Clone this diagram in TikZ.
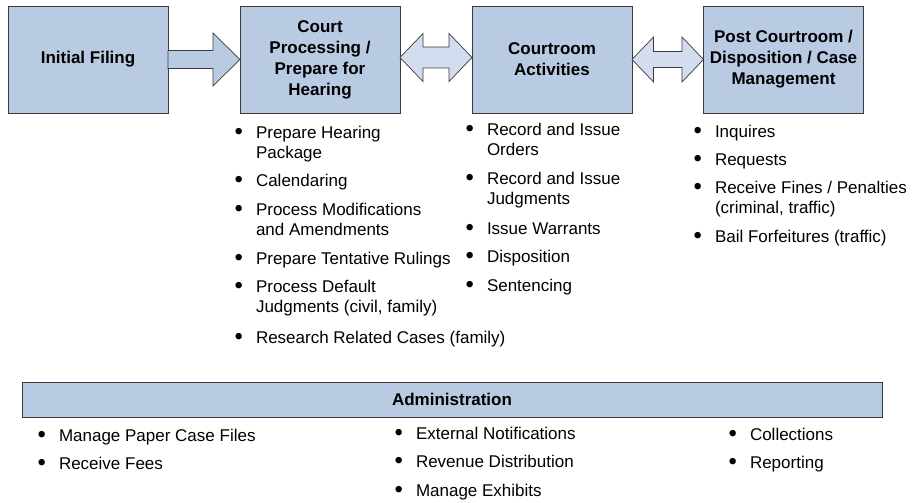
\documentclass[tikz,border=0pt]{standalone}
\usepackage{fontspec}
\setmainfont{Liberation Sans}
\usetikzlibrary{calc}
\definecolor{boxblue}{HTML}{B9CAE3}
\definecolor{arrowlight}{HTML}{D3DDEF}
\definecolor{edgegray}{HTML}{3A3A3A}
\tikzset{
  phase/.style={draw=edgegray, line width=0.8pt, fill=boxblue, minimum width=160pt, minimum height=107pt,
    inner sep=2pt, outer sep=0pt, align=center, font=\bfseries\fontsize{17}{21}\selectfont},
  bigarrow/.style={draw=edgegray, line width=0.7pt, fill=boxblue, line join=miter},
  dblarrow/.style={draw=edgegray, line width=0.7pt, fill=arrowlight, line join=miter},
  listitem/.style={anchor=base west, inner sep=0pt, outer sep=0pt, align=left, font=\fontsize{17}{20.5}\selectfont},
  adminbar/.style={draw=edgegray, line width=0.8pt, fill=boxblue, minimum width=860pt, minimum height=35pt,
    inner sep=0pt, outer sep=0pt, font=\bfseries\fontsize{17}{20}\selectfont}
}
\newcommand{\bul}{\llap{\raisebox{-1.4pt}{\scalebox{1.4}{\textbullet}}\hspace{13pt}}}
\begin{document}
\begin{tikzpicture}[x=1pt, y=-1pt]
\useasboundingbox (0,0) rectangle (913,503);
% phase boxes
\node[phase] (ifl) at (88,59.5) {Initial Filing};
\node[phase] (cpp) at (320,59.5) {Court\\Processing /\\Prepare for\\Hearing};
\node[phase] (cra) at (552,59.5) {Courtroom\\Activities};
\node[phase] (pcd) at (783.5,59.5) {Post Courtroom /\\Disposition / Case\\Management};
% arrow Initial Filing -> Court Processing
\draw[bigarrow] (ifl.east) ++(0,-9) -- ++(45,0) -- ++(0,-17.5) -- (cpp.west)
  -- ++(-27,26.5) -- ++(0,-17.5) -- ++(-45,0) -- cycle;
% double arrow Court Processing <-> Courtroom
\draw[dblarrow] (cpp.east |- 0,57.5) coordinate (d2a) -- ++(23,-24) -- ++(0,13.5)
  -- ($(cra.west |- d2a)+(-23,-10.5)$) -- ++(0,-13.5) -- (cra.west |- d2a) -- ++(-23,24) -- ++(0,-13.5)
  -- ($(d2a)+(23,10.5)$) -- ++(0,13.5) -- cycle;
% double arrow Courtroom <-> Post Courtroom
\draw[dblarrow] (cra.east) -- ++(21.5,-22.5) -- ++(0,14.5) -- ($(pcd.west)+(-21.5,-8)$)
  -- ++(0,-14.5) -- (pcd.west) -- ++(-21.5,22.5) -- ++(0,-14.5) -- ($(cra.east)+(21.5,8)$)
  -- ++(0,14.5) -- cycle;
% column 1 (anchor = baseline of last line)
\node[listitem] (c1a) at (256,158.5) {\bul Prepare Hearing\\Package};
\node[listitem] (c1b) at (256,186) {\bul Calendaring};
\node[listitem] (c1c) at (256,235.5) {\bul Process Modifications\\and Amendments};
\node[listitem] (c1d) at (256,264) {\bul Prepare Tentative Rulings};
\node[listitem] (c1e) at (256,312.5) {\bul Process Default\\Judgments (civil, family)};
\node[listitem] (c1f) at (256,343) {\bul Research Related Cases (family)};
% column 2
\node[listitem] (c2a) at (487,155.5) {\bul Record and Issue\\Orders};
\node[listitem] (c2b) at (487,204.5) {\bul Record and Issue\\Judgments};
\node[listitem] (c2c) at (487,234) {\bul Issue Warrants};
\node[listitem] (c2d) at (487,262) {\bul Disposition};
\node[listitem] (c2e) at (487,291) {\bul Sentencing};
% column 3
\node[listitem] (c3a) at (715,137) {\bul Inquires};
\node[listitem] (c3b) at (715,165) {\bul Requests};
\node[listitem] (c3c) at (715,213.5) {\bul Receive Fines / Penalties\\(criminal, traffic)};
\node[listitem] (c3d) at (715,242) {\bul Bail Forfeitures (traffic)};
% administration
\node[adminbar] (adm) at (452,399.5) {Administration};
\node[listitem] (a1a) at (59,441) {\bul Manage Paper Case Files};
\node[listitem] (a1b) at (59,469) {\bul Receive Fees};
\node[listitem] (a2a) at (416,439) {\bul External Notifications};
\node[listitem] (a2b) at (416,467) {\bul Revenue Distribution};
\node[listitem] (a2c) at (416,496) {\bul Manage Exhibits};
\node[listitem] (a3a) at (750,440) {\bul Collections};
\node[listitem] (a3b) at (750,468) {\bul Reporting};
\end{tikzpicture}
\end{document}
